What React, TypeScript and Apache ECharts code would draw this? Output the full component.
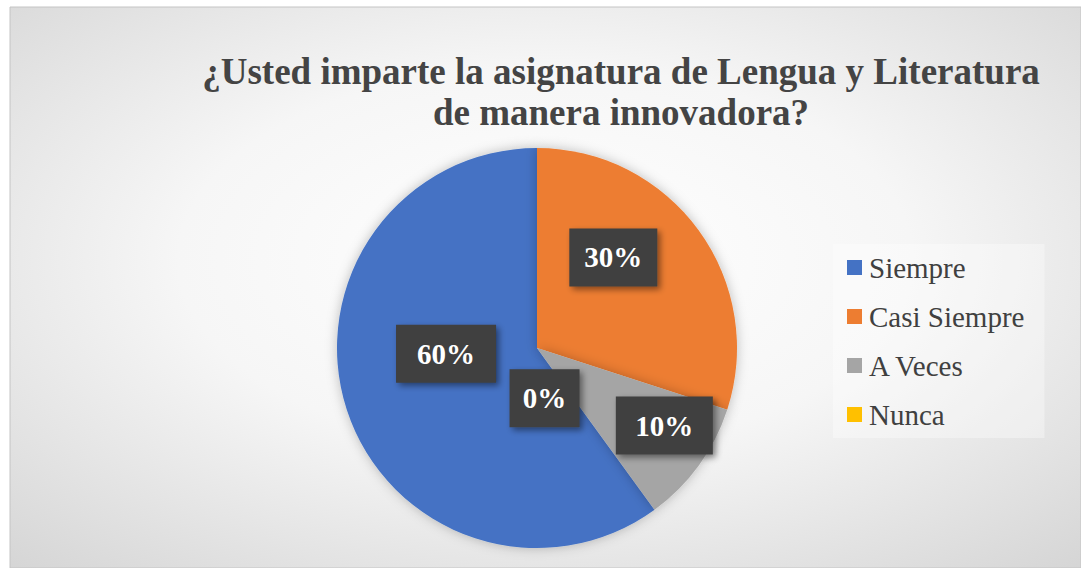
import React, { useEffect, useRef } from "react";
import * as echarts from "echarts";

const titleText = "¿Usted imparte la asignatura de Lengua y Literatura\nde manera innovadora?";
const categories = ["Siempre", "Casi Siempre", "A Veces", "Nunca"];
const values = [60, 30, 10, 0];
const colors = ["#4472C4", "#ED7D31", "#A5A5A5", "#FFC000"];
const labelOffsets = [[7, -26], [-7, -30], [44, 17], [-53, -33]];
const labelBoxWidths = [100, 88, 97, 70];

export default function App() {
  const ref = useRef<HTMLDivElement>(null);
  useEffect(() => {
    if (!ref.current) return;
    const chart = echarts.init(ref.current, undefined, { renderer: "svg" });
    const serif = "Liberation Serif";
    chart.setOption({
      animation: false,
      graphic: [
        {
          type: "rect",
          z: -10,
          shape: { x: 10, y: 7, width: 1071, height: 561 },
          style: {
            fill: new echarts.graphic.RadialGradient(0.5, 0.45, 0.98, [
              { offset: 0, color: "#ffffff" },
              { offset: 0.35, color: "#f6f6f6" },
              { offset: 0.8, color: "#d2d2d2" },
              { offset: 1, color: "#bdbdbd" },
            ]),
            stroke: "#c4c4c4",
            lineWidth: 1,
          },
        },
      ],
      title: {
        text: titleText,
        left: 616,
        top: 46,
        textAlign: "center",
        textStyle: {
          fontFamily: serif,
          fontWeight: "bold",
          fontSize: 37,
          lineHeight: 41,
          color: "#444444",
        },
      },
      legend: {
        orient: "vertical",
        left: 833,
        top: 244,
        padding: [9, 20, 9, 14],
        backgroundColor: "rgba(255,255,255,0.35)",
        itemWidth: 15,
        itemHeight: 15,
        itemGap: 20,
        icon: "rect",
        data: categories,
        textStyle: {
          fontFamily: serif,
          fontSize: 29,
          lineHeight: 28,
          color: "#404040",
          padding: [0, 0, 0, 2],
        },
      },
      series: [
        {
          type: "pie",
          center: [537, 348],
          radius: [0, 200],
          startAngle: 306,
          clockwise: true,
          avoidLabelOverlap: false,
          itemStyle: {
            shadowBlur: 12,
            shadowColor: "rgba(0,0,0,0.25)",
          },
          label: {
            show: true,
            position: "inside",
            formatter: "{d}%",
            fontFamily: serif,
            fontWeight: "bold",
            fontSize: 29,
            color: "#ffffff",
            backgroundColor: "#3f3f3f",
            height: 28,
            padding: [15, 0],
            align: "center",
            shadowColor: "rgba(0,0,0,0.45)",
            shadowBlur: 6,
            shadowOffsetX: 3,
            shadowOffsetY: 3,
          },
          labelLine: { show: false },
          emphasis: { disabled: true },
          data: categories.map((name, i) => ({
            name,
            value: values[i],
            itemStyle: { color: colors[i] },
            label: { offset: labelOffsets[i], width: labelBoxWidths[i] },
          })),
        },
      ],
    });
    return () => chart.dispose();
  }, []);
  return (
    <div
      ref={ref}
      style={{ position: "absolute", left: 0, top: 0, width: 1081, height: 568 }}
    />
  );
}
